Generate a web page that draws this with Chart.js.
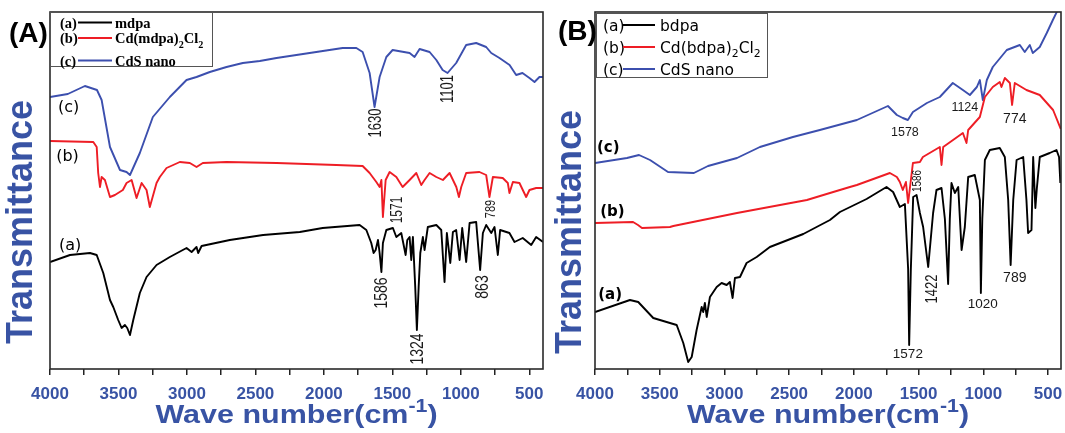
<!DOCTYPE html>
<html>
<head>
<meta charset="utf-8">
<script src="https://cdn.jsdelivr.net/npm/chart.js@4"></script>
<style>
  body { margin: 0; background: #fff; }
  .panel { position: absolute; top: 0; height: 433px; }
</style>
</head>
<body>
<div class="panel" style="left:0;width:550px"><canvas id="chartA" width="550" height="433"></canvas></div>
<div class="panel" style="left:550px;width:515px"><canvas id="chartB" width="515" height="433"></canvas></div>
<script>
// x axis ticks (cm-1)
const tickLabels = [4000, 3500, 3000, 2500, 2000, 1500, 1000, 500];
const minorTicks = [3750, 3250, 2750, 2250, 1750, 1250, 750];

// ---- panel A : (a) mdpa, (b) Cd(mdpa)2Cl2, (c) CdS nano ----
const mdpaWave = [4000,3854,3708,3659,3611,3562,3538,3502,3477,3453,3436,3416,3392,3344,3295,3222,3125,3003,2966,2930,2918,2893,2687,2444,2176,2009,1739,1690,1654,1637,1622,1605,1593,1580,1569,1544,1496,1471,1435,1403,1391,1374,1362,1350,1333,1321,1308,1296,1277,1265,1241,1179,1143,1119,1102,1077,1058,1034,1009,990,961,936,888,859,839,815,778,754,730,713,645,608,548,486,450,400];
const mdpaT = [107,114,116,114,96,69,62,49,41,44,41,34,49,76,92,104,112,121,117,122,116,123,129,134,137,141,144,139,126,116,119,129,116,97,126,139,141,132,136,114,129,132,109,132,82,39,82,116,132,119,142,144,139,87,136,106,137,139,109,141,107,146,147,99,136,144,136,142,114,139,136,127,131,124,132,127];

const cdMdpaWave = [4000,3684,3659,3648,3635,3623,3599,3562,3526,3468,3441,3404,3368,3331,3295,3271,3222,3198,3149,3052,2979,2930,2884,2711,2346,1909,1717,1666,1617,1593,1580,1569,1549,1520,1471,1425,1374,1325,1289,1265,1228,1179,1131,1082,1033,1014,997,961,864,815,791,766,694,657,645,620,572,523,499,450,400];
const cdMdpaT = [228,227,222,196,182,192,189,172,174,179,186,189,171,186,179,162,186,192,201,207,206,202,206,207,206,204,203,196,187,182,189,152,189,197,192,182,189,196,184,189,196,192,189,196,182,172,182,196,197,194,172,192,191,186,176,187,186,172,179,181,181];

const cdsAWave = [4000,3870,3745,3657,3623,3562,3489,3441,3416,3344,3249,3125,3003,2930,2833,2711,2592,2468,2346,2104,1863,1763,1717,1666,1630,1593,1544,1498,1374,1338,1301,1228,1179,1133,1097,1034,961,888,815,778,718,644,596,550,499,462,426,400];
const cdsAT = [272,275,283,279,269,222,199,197,194,216,252,272,289,292,297,302,306,308,311,316,321,321,317,296,262,292,312,319,316,312,320,317,309,299,296,306,324,326,322,316,311,304,294,296,291,287,292,292];

// ---- panel B : (a) bdpa, (b) Cd(bdpa)2Cl2, (c) CdS nano ----
const bdpaWave = [4000,3730,3666,3550,3421,3369,3318,3280,3253,3215,3176,3164,3151,3137,3112,3060,3022,2983,2958,2937,2919,2880,2829,2751,2649,2391,2185,2108,1902,1748,1697,1645,1606,1581,1573,1560,1542,1516,1490,1465,1426,1388,1362,1323,1297,1272,1259,1246,1220,1194,1168,1143,1117,1066,1027,1019,1008,988,950,873,834,808,789,769,743,692,667,654,628,615,598,587,564,487,435,415,405];
const bdpaT = [57,69,67,51,46,44,26,7,12,39,62,57,66,52,72,82,86,84,87,71,91,92,106,112,122,135,149,157,170,182,177,162,165,100,24,100,172,174,156,142,102,156,179,181,150,85,150,186,176,182,119,142,192,194,169,76,150,209,219,221,212,169,104,169,209,212,169,136,139,212,161,180,212,216,219,212,186];

const cdBdpaWave = [4000,3706,3668,3637,3421,3395,2903,2363,2185,2031,1977,1722,1668,1645,1622,1598,1581,1544,1490,1467,1336,1323,1310,1158,1130,1117,1027,988,927,873,860,834,795,778,757,667,564,461,402];
const cdBdpaT = [146,147,144,141,142,143,156,169,176,182,184,196,192,187,179,187,166,206,207,212,222,204,222,236,226,239,252,272,282,287,282,291,286,264,286,279,274,259,240];

const cdsBWave = [4000,3753,3660,3575,3436,3236,3127,2903,2726,2471,2263,1977,1737,1668,1622,1583,1544,1436,1336,1236,1158,1104,1050,1027,1004,973,927,819,718,680,641,618,564,510,463,425,402];
const cdsBT = [206,211,214,209,197,196,203,211,222,232,239,249,263,254,251,249,257,266,272,286,279,274,282,289,269,289,302,319,324,317,324,316,322,336,349,359,366];

// peak annotations: text, wavenumber where the label sits, level (a.u.)
const peakTextA = ['1630', '1101', '1571', '789', '1586', '863', '1324'];
const peakWaveA = [1630, 1101, 1470, 789, 1590, 849, 1323];
const peakLevelA = [246, 280, 159, 160, 76, 82, 20];

const peakTextB = ['1578', '1124', '774', '1586', '1422', '1020', '789', '1572'];
const peakWaveB = [1606, 1143, 757, 1514, 1405, 1004, 757, 1583];
const peakLevelB = [238, 263, 251, 188, 80, 66, 92, 16];

const tagsABC = ['(a)', '(b)', '(c)'];

const TXT_BLUE = '#3853a4';
const LINE_BLUE = '#3c4fae';
const LINE_RED = '#ee1d25';
const SANS = '"Liberation Sans", Arial, sans-serif';
const DEJAVU = '"DejaVu Sans", sans-serif';
const SERIF = '"Liberation Serif", "Times New Roman", serif';

function pts(w, t) {
  return w.map((x, i) => ({ x: x, y: t[i] }));
}

// split a name like Cd(mdpa)2Cl2 into normal / subscript parts
function subParts(s) {
  return s.split(/(\d+)/).filter(p => p !== '').map(p => [p, /^\d+$/.test(p) ? 1 : 0]);
}

// draw text pieces; kind 1 = subscript, -1 = superscript
function rich(ctx, parts, x, y, o) {
  const list = typeof parts === 'string' ? [[parts, 0]] : parts;
  ctx.save();
  ctx.translate(x, y);
  ctx.scale(o.sx || 1, 1);
  if (o.rot) ctx.rotate(o.rot);
  ctx.fillStyle = o.color || '#000';
  ctx.textBaseline = 'alphabetic';
  ctx.textAlign = 'left';
  const fonts = list.map(p => (o.weight || 'normal') + ' ' + (p[1] ? o.size * 0.7 : o.size) + 'px ' + o.family);
  let total = 0;
  const widths = list.map((p, i) => {
    ctx.font = fonts[i];
    const m = ctx.measureText(p[0]).width;
    total += m;
    return m;
  });
  let cx = o.align === 'center' ? -total / 2 : (o.align === 'right' ? -total : 0);
  const dy = o.size * 0.36;
  list.forEach((p, i) => {
    ctx.font = fonts[i];
    const off = p[1] === 1 ? o.size * 0.3 : (p[1] === -1 ? -o.size * 0.45 : 0);
    ctx.fillText(p[0], cx, dy + off);
    cx += widths[i];
  });
  ctx.restore();
}

const decoPlugin = {
  id: 'deco',
  afterDatasetsDraw(chart, args, o) {
    const ctx = chart.ctx, a = chart.chartArea;
    const xs = chart.scales.x, ys = chart.scales.y;
    const X = w => xs.getPixelForValue(w), Y = v => ys.getPixelForValue(v);
    ctx.save();

    // frame
    ctx.strokeStyle = '#2a2a2a';
    ctx.lineWidth = 1.6;
    ctx.strokeRect(a.left, a.top, a.right - a.left, a.bottom - a.top);

    // legend
    const L = o.legend;
    ctx.fillStyle = '#fff';
    ctx.fillRect(L.x, L.y, L.w, L.h);
    ctx.strokeStyle = '#555';
    ctx.lineWidth = 1;
    ctx.strokeRect(L.x + 0.5, L.y + 0.5, L.w, L.h);
    chart.data.datasets.forEach((ds, i) => {
      const ry = L.rowY[i];
      rich(ctx, tagsABC[i], L.tagX, ry, L.font);
      ctx.strokeStyle = ds.borderColor;
      ctx.lineWidth = 2;
      ctx.beginPath();
      ctx.moveTo(L.line[0], ry);
      ctx.lineTo(L.line[1], ry);
      ctx.stroke();
      rich(ctx, subParts(ds.label), L.textX, ry, L.font);
    });

    // curve tags (a) (b) (c)
    o.curveTags.forEach((c, i) => {
      rich(ctx, tagsABC[i], X(c[0]), Y(c[1]), o.curveFont);
    });

    // peak labels
    o.peaks.text.forEach((t, i) => {
      rich(ctx, t, X(o.peaks.wave[i]), Y(o.peaks.level[i]), {
        family: SANS, size: o.peaks.size[i], color: '#1a1a1a', align: 'center',
        rot: o.peaks.rot[i] ? -Math.PI / 2 : 0, sx: o.peaks.rot[i] ? o.peaks.sx : 1
      });
    });

    // panel letter
    rich(ctx, o.letter, o.letterPos[0], o.letterPos[1], { family: SANS, weight: 'bold', size: 28 });

    // axis titles
    rich(ctx, 'Transmittance', o.yTitle[0], o.yTitle[1], {
      family: SANS, weight: 'bold', size: 36, color: TXT_BLUE, align: 'center', rot: -Math.PI / 2, sx: 1
    });
    rich(ctx, [['Wave number(cm', 0], ['-1', -1], [')', 0]], (a.left + a.right) / 2, 414, {
      family: SANS, weight: 'bold', size: 25, color: TXT_BLUE, align: 'center', sx: 1.22
    });
    ctx.restore();
  }
};

function makeChart(id, sets, padLeft, padRight, decoOpts) {
  const allTicks = tickLabels.concat(minorTicks).sort((p, q) => p - q);
  return new Chart(document.getElementById(id), {
    type: 'line',
    data: {
      datasets: sets.map(s => ({
        label: s.label,
        data: s.data,
        borderColor: s.color,
        borderWidth: 1.9,
        pointRadius: 0,
        tension: 0,
        fill: false,
        borderJoinStyle: 'round'
      }))
    },
    options: {
      responsive: false,
      animation: false,
      events: [],
      layout: { padding: { left: padLeft, right: padRight, top: 12, bottom: 0 } },
      plugins: { legend: { display: false }, tooltip: { enabled: false }, deco: decoOpts },
      scales: {
        x: {
          type: 'linear',
          reverse: true,
          min: 400,
          max: 4000,
          afterBuildTicks: ax => { ax.ticks = allTicks.map(v => ({ value: v })); },
          afterFit: ax => { ax.height = 64; },
          ticks: {
            autoSkip: false,
            maxRotation: 0,
            padding: 9,
            color: TXT_BLUE,
            font: { family: SANS, weight: 'bold', size: 17 },
            callback: v => tickLabels.includes(v) ? String(v) : ''
          },
          grid: { drawOnChartArea: false, tickLength: 6, color: '#222', lineWidth: 1.5 },
          border: { display: false }
        },
        y: { display: false, min: 0, max: 357 }
      }
    },
    plugins: [decoPlugin]
  });
}

makeChart('chartA', [
  { label: 'mdpa', data: pts(mdpaWave, mdpaT), color: '#000' },
  { label: 'Cd(mdpa)2Cl2', data: pts(cdMdpaWave, cdMdpaT), color: LINE_RED },
  { label: 'CdS nano', data: pts(cdsAWave, cdsAT), color: LINE_BLUE }
], 50, 7, {
  legend: {
    x: 50, y: 12, w: 162, h: 54, rowY: [22.5, 38, 60.5], tagX: 60, line: [78, 112], textX: 115,
    font: { family: SERIF, weight: 'bold', size: 14.5 }
  },
  curveTags: [[3935, 125], [3955, 214], [3942, 263]],
  curveFont: { family: DEJAVU, size: 16 },
  peaks: { text: peakTextA, wave: peakWaveA, level: peakLevelA, size: [13, 13, 12, 11, 14, 14, 14], rot: [1, 1, 1, 1, 1, 1, 1], sx: 1.35 },
  letter: '(A)', letterPos: [9, 32],
  yTitle: [19, 222]
});

makeChart('chartB', [
  { label: 'bdpa', data: pts(bdpaWave, bdpaT), color: '#000' },
  { label: 'Cd(bdpa)2Cl2', data: pts(cdBdpaWave, cdBdpaT), color: LINE_RED },
  { label: 'CdS nano', data: pts(cdsBWave, cdsBT), color: LINE_BLUE }
], 45, 4, {
  legend: {
    x: 46, y: 13, w: 171, h: 64, rowY: [25, 47, 69], tagX: 53, line: [73, 105], textX: 110,
    font: { family: DEJAVU, size: 15.5 }
  },
  curveTags: [[3975, 75], [3960, 158], [3985, 222]],
  curveFont: { family: DEJAVU, weight: 'bold', size: 15 },
  peaks: { text: peakTextB, wave: peakWaveB, level: peakLevelB, size: [12.5, 12.5, 14, 10, 13, 13.5, 14, 13.5], rot: [0, 0, 0, 1, 1, 0, 0, 0], sx: 1.3 },
  letter: '(B)', letterPos: [8, 30],
  yTitle: [18, 232]
});
</script>
</body>
</html>
